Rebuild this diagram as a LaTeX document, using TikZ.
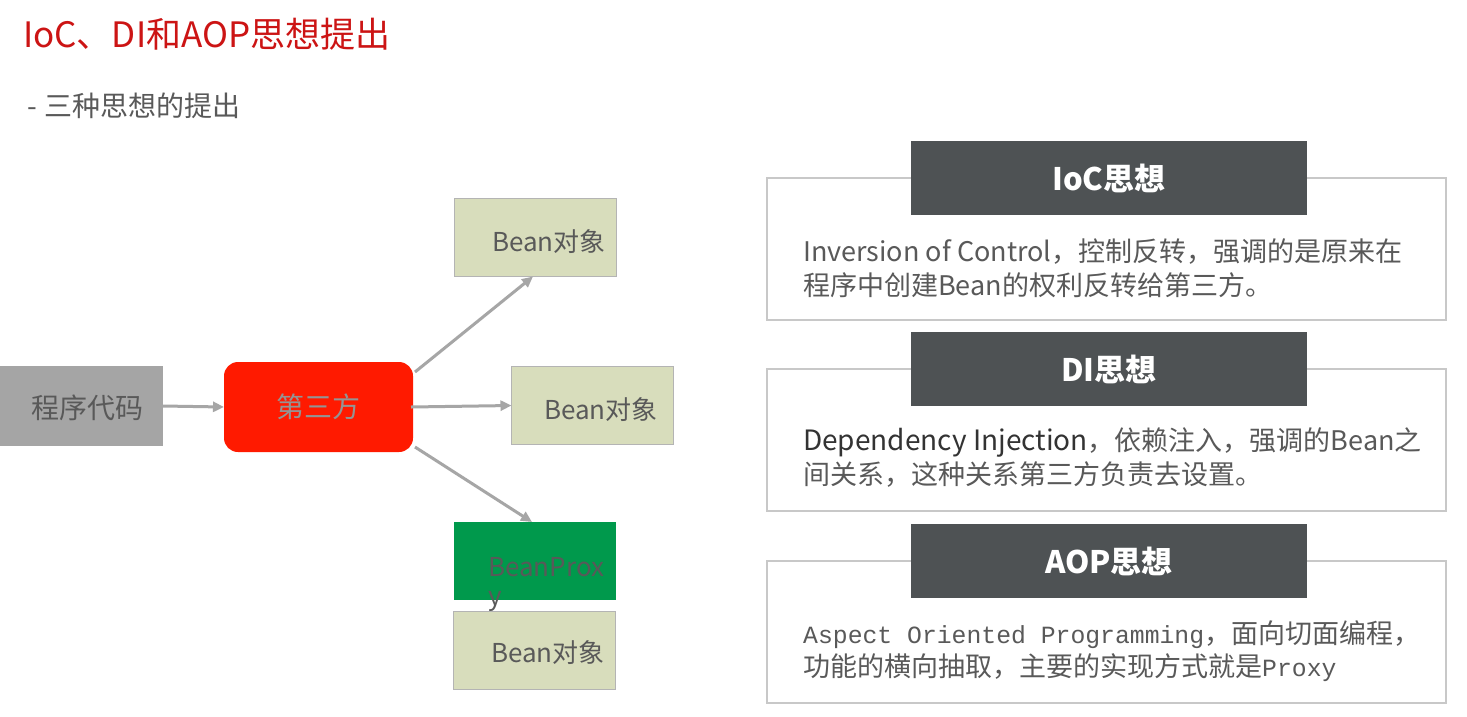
\documentclass[tikz,border=0pt]{standalone}
\usepackage{fontspec}
\setmainfont{Noto Sans CJK SC}
\newfontfamily\latmono{Liberation Mono}
\usetikzlibrary{calc,arrows.meta}
\definecolor{titlered}{HTML}{CC1414}
\definecolor{subgray}{HTML}{595959}
\definecolor{codegray}{HTML}{A5A5A5}
\definecolor{thirdred}{HTML}{FF1A00}
\definecolor{beanfill}{HTML}{D8DDBC}
\definecolor{beanline}{HTML}{B4B4B4}
\definecolor{proxygreen}{HTML}{00994C}
\definecolor{arrgray}{HTML}{A6A6A6}
\definecolor{hdrgray}{HTML}{4E5254}
\definecolor{panelline}{HTML}{C8C8C8}
\definecolor{bodytext}{HTML}{595959}
\definecolor{darktext}{HTML}{333333}
\newcommand\myfs[1]{\fontsize{#1}{#1}\selectfont}
\begin{document}
\begin{tikzpicture}[x=1pt,y=-1pt,
  flowbox/.style={inner sep=0pt, outer sep=0pt},
  beanbox/.style={flowbox, fill=beanfill, draw=beanline, line width=1pt, minimum width=162pt, minimum height=78pt},
  beantxt/.style={anchor=west, inner sep=0pt, text=subgray, font=\myfs{26}},
  arr/.style={draw=arrgray, line width=3pt, -{Triangle[length=11pt,width=10pt]}},
  panel/.style={draw=panelline, line width=2pt, fill=white, minimum width=679pt, minimum height=142pt, inner sep=0pt},
  hdr/.style={fill=hdrgray, text=white, minimum width=396pt, minimum height=74pt, inner sep=0pt, font=\bfseries\myfs{31}},
  body/.style={anchor=west, inner sep=0pt, text=bodytext, font=\myfs{27}}
]
\useasboundingbox (0,0) rectangle (1467,716);
\fill[white] (0,0) rectangle (1467,716);

% titles
\node[anchor=west, inner sep=0pt, text=titlered, font=\myfs{35}] (title) at (23,34) {IoC、DI和AOP思想提出};
\node[anchor=west, inner sep=0pt, text=subgray, font=\myfs{28}] (subtitle) at (27,106) {-\kern8pt 三种思想的提出};

% left flow
\node[flowbox, fill=codegray, minimum width=163pt, minimum height=80pt] (code) at (81.5,406) {};
\node[inner sep=0pt, text=subgray, font=\myfs{28}] (codet) at (87,408) {程序代码};
\node[flowbox, fill=thirdred, rounded corners=14pt, minimum width=189pt, minimum height=90pt, text=codegray!90!black, font=\myfs{28}] (third) at (318.5,407) {第三方};

\node[beanbox] (bean1) at (535,237.5) {};
\node[beantxt] (bean1t) at (492,242) {Bean对象};
\node[beanbox] (bean2) at (592.5,405.5) {};
\node[beantxt] (bean2t) at (544,410) {Bean对象};
\node[flowbox, fill=proxygreen, minimum width=162pt, minimum height=78pt] (proxy) at (535,561) {};
\node[beantxt] (proxyt) at (488,567) {BeanProx};
\node[beantxt] (proxyy) at (488,601) {y};
\node[beanbox] (bean3) at (534,650.5) {};
\node[beantxt] (bean3t) at (491,653) {Bean对象};

\draw[arr] (code.east) -- (third.west);
\draw[arr] ($(third.north east)+(2,10)$) -- ($(bean1.south west)+(79,0)$);
\draw[arr] ($(third.east)+(-2,0)$) -- (bean2.west);
\draw[arr] ($(third.south east)+(2,-5)$) -- ($(proxy.north west)+(78,0)$);

% right panels
\node[panel] (iocp) at (1106.5,249) {};
\node[hdr] (ioch) at (1109,178) {IoC思想};
\node[body] (ioc1) at (803,252) {Inversion of Control，控制反转，强调的是原来在};
\node[body] (ioc2) at (803,285) {程序中创建Bean的权利反转给第三方。};

\node[panel] (dip) at (1106.5,440) {};
\node[hdr] (dih) at (1109,369) {DI思想};
\node[body] (di1) at (803,442) {{\color{darktext}\myfs{28}Dependency Injection}，依赖注入，强调的Bean之};
\node[body] (di2) at (803,475) {间关系，这种关系第三方负责去设置。};

\node[panel] (aopp) at (1106.5,631.5) {};
\node[hdr] (aoph) at (1109,561) {AOP思想};
\node[body] (aop1) at (803,635) {{\latmono\myfs{24.75}Aspect Oriented Programming}，面向切面编程，};
\node[body] (aop2) at (803,668) {功能的横向抽取，主要的实现方式就是{\latmono\myfs{24.75}Proxy}};
\end{tikzpicture}
\end{document}
